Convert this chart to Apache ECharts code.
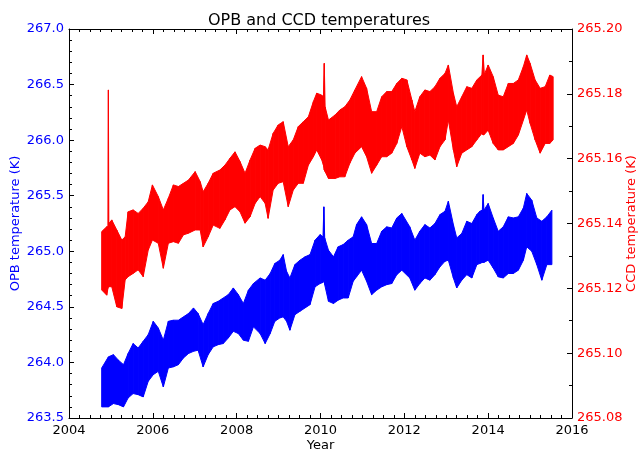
<!DOCTYPE html>
<html>
<head>
<meta charset="utf-8">
<title>OPB and CCD temperatures</title>
<script src="https://cdn.jsdelivr.net/npm/echarts@6/dist/echarts.min.js"></script>
<style>
  html, body { margin: 0; padding: 0; background: #fff; }
  #chart { width: 638px; height: 451px; }
</style>
</head>
<body>
<div id="chart"></div>
<script>
// OPB temperature (left axis): upper / lower edge of the noisy trace
var opbYears = [2004.78, 2004.94, 2005.06, 2005.18, 2005.30, 2005.41, 2005.53, 2005.65, 2005.77, 2005.89,
  2006.01, 2006.13, 2006.25, 2006.37, 2006.49, 2006.61, 2006.73, 2006.85, 2006.97, 2007.08,
  2007.20, 2007.32, 2007.44, 2007.56, 2007.68, 2007.80, 2007.92, 2008.04, 2008.16, 2008.28,
  2008.40, 2008.56, 2008.68, 2008.80, 2008.91, 2009.03, 2009.11, 2009.19, 2009.27, 2009.39,
  2009.51, 2009.63, 2009.75, 2009.87, 2009.99, 2010.06, 2010.08, 2010.10, 2010.19, 2010.31,
  2010.42, 2010.54, 2010.66, 2010.78, 2010.86, 2010.98, 2011.10, 2011.22, 2011.34, 2011.46,
  2011.58, 2011.70, 2011.82, 2011.94, 2012.13, 2012.25, 2012.37, 2012.49, 2012.61, 2012.73,
  2012.85, 2012.97, 2013.05, 2013.17, 2013.25, 2013.37, 2013.49, 2013.61, 2013.73, 2013.80,
  2013.86, 2013.88, 2013.90, 2014.00, 2014.12, 2014.24, 2014.36, 2014.48, 2014.60, 2014.72,
  2014.84, 2014.92, 2015.04, 2015.16, 2015.28, 2015.40, 2015.52];
var opbHi = [263.95, 264.05, 264.07, 264.02, 263.98, 264.08, 264.17, 264.13, 264.19, 264.25,
  264.37, 264.31, 264.20, 264.37, 264.38, 264.38, 264.41, 264.44, 264.49, 264.44,
  264.34, 264.44, 264.53, 264.55, 264.58, 264.61, 264.67, 264.61, 264.53, 264.65,
  264.71, 264.76, 264.74, 264.80, 264.89, 264.92, 264.97, 264.82, 264.76, 264.88,
  264.92, 264.95, 264.97, 265.10, 265.15, 265.13, 265.40, 265.12, 265.01, 264.95,
  265.04, 265.06, 265.10, 265.13, 265.24, 265.31, 265.24, 265.07, 265.07, 265.18,
  265.22, 265.21, 265.30, 265.34, 265.22, 265.10, 265.18, 265.24, 265.21, 265.25,
  265.33, 265.36, 265.45, 265.24, 265.12, 265.16, 265.27, 265.25, 265.33, 265.36,
  265.37, 265.51, 265.37, 265.43, 265.30, 265.18, 265.22, 265.31, 265.30, 265.31,
  265.39, 265.52, 265.46, 265.30, 265.27, 265.31, 265.37];
var opbLo = [263.60, 263.60, 263.63, 263.62, 263.60, 263.68, 263.72, 263.71, 263.69, 263.83,
  263.89, 263.92, 263.78, 263.95, 263.96, 263.98, 264.04, 264.08, 264.10, 264.11,
  263.96, 264.07, 264.14, 264.16, 264.17, 264.22, 264.28, 264.26, 264.20, 264.19,
  264.32, 264.26, 264.17, 264.26, 264.37, 264.40, 264.41, 264.37, 264.29, 264.43,
  264.46, 264.49, 264.52, 264.68, 264.71, 264.72, 264.75, 264.70, 264.55, 264.53,
  264.56, 264.58, 264.58, 264.73, 264.77, 264.83, 264.73, 264.61, 264.65, 264.68,
  264.70, 264.71, 264.79, 264.83, 264.76, 264.65, 264.71, 264.76, 264.74, 264.79,
  264.86, 264.91, 264.92, 264.76, 264.67, 264.74, 264.79, 264.76, 264.88, 264.89,
  264.90, 264.90, 264.90, 264.92, 264.85, 264.77, 264.76, 264.80, 264.80, 264.83,
  264.92, 265.04, 265.00, 264.88, 264.74, 264.88, 264.88];

// CCD temperature (right axis)
var ccdYears = [2004.78, 2004.90, 2004.93, 2004.94, 2004.95, 2005.02, 2005.14, 2005.26, 2005.34, 2005.41,
  2005.53, 2005.65, 2005.77, 2005.89, 2005.99, 2006.13, 2006.25, 2006.37, 2006.49, 2006.61,
  2006.73, 2006.85, 2007.01, 2007.13, 2007.20, 2007.32, 2007.44, 2007.60, 2007.72, 2007.84,
  2007.96, 2008.08, 2008.20, 2008.32, 2008.44, 2008.56, 2008.68, 2008.75, 2008.87, 2008.99,
  2009.11, 2009.23, 2009.35, 2009.47, 2009.59, 2009.71, 2009.83, 2009.91, 2010.03, 2010.07,
  2010.09, 2010.11, 2010.19, 2010.35, 2010.46, 2010.58, 2010.70, 2010.82, 2010.98, 2011.10,
  2011.22, 2011.34, 2011.46, 2011.58, 2011.70, 2011.82, 2011.94, 2012.06, 2012.18, 2012.25,
  2012.37, 2012.49, 2012.61, 2012.73, 2012.85, 2012.97, 2013.05, 2013.17, 2013.25, 2013.37,
  2013.49, 2013.61, 2013.73, 2013.85, 2013.88, 2013.91, 2014.00, 2014.12, 2014.24, 2014.36,
  2014.48, 2014.60, 2014.72, 2014.84, 2014.92, 2015.00, 2015.12, 2015.24, 2015.36, 2015.47,
  2015.55];
var ccdHi = [265.1375, 265.1390, 265.1390, 265.1812, 265.1400, 265.1411, 265.1380, 265.1349, 265.1359, 265.1436,
  265.1442, 265.1431, 265.1447, 265.1467, 265.1519, 265.1483, 265.1442, 265.1478, 265.1519, 265.1514,
  265.1524, 265.1534, 265.1560, 265.1529, 265.1498, 265.1524, 265.1555, 265.1565, 265.1580, 265.1601,
  265.1621, 265.1591, 265.1555, 265.1596, 265.1632, 265.1642, 265.1637, 265.1627, 265.1678, 265.1704,
  265.1714, 265.1637, 265.1658, 265.1699, 265.1714, 265.1729, 265.1776, 265.1802, 265.1796, 265.1790,
  265.1894, 265.1760, 265.1719, 265.1735, 265.1750, 265.1760, 265.1781, 265.1812, 265.1853, 265.1817,
  265.1745, 265.1745, 265.1791, 265.1807, 265.1807, 265.1832, 265.1848, 265.1843, 265.1781, 265.1745,
  265.1791, 265.1812, 265.1807, 265.1822, 265.1848, 265.1863, 265.1889, 265.1802, 265.1760, 265.1791,
  265.1822, 265.1817, 265.1843, 265.1858, 265.1920, 265.1860, 265.1889, 265.1853, 265.1796, 265.1791,
  265.1832, 265.1832, 265.1843, 265.1884, 265.1920, 265.1894, 265.1843, 265.1817, 265.1822, 265.1858,
  265.1853];
var ccdLo = [265.1195, 265.1179, 265.1200, 265.1210, 265.1205, 265.1205, 265.1143, 265.1138, 265.1226, 265.1236,
  265.1246, 265.1257, 265.1236, 265.1318, 265.1349, 265.1339, 265.1262, 265.1339, 265.1344, 265.1339,
  265.1365, 265.1370, 265.1380, 265.1380, 265.1328, 265.1359, 265.1395, 265.1385, 265.1411, 265.1442,
  265.1452, 265.1436, 265.1401, 265.1421, 265.1462, 265.1483, 265.1462, 265.1416, 265.1503, 265.1524,
  265.1529, 265.1452, 265.1503, 265.1524, 265.1524, 265.1580, 265.1606, 265.1627, 265.1596, 265.1580,
  265.1565, 265.1560, 265.1539, 265.1539, 265.1544, 265.1544, 265.1586, 265.1617, 265.1637, 265.1606,
  265.1555, 265.1580, 265.1606, 265.1606, 265.1617, 265.1647, 265.1699, 265.1637, 265.1596, 265.1570,
  265.1617, 265.1606, 265.1611, 265.1596, 265.1637, 265.1658, 265.1719, 265.1627, 265.1575, 265.1617,
  265.1627, 265.1637, 265.1658, 265.1678, 265.1673, 265.1675, 265.1688, 265.1647, 265.1627, 265.1627,
  265.1637, 265.1647, 265.1673, 265.1719, 265.1750, 265.1709, 265.1658, 265.1617, 265.1647, 265.1647,
  265.1658];

var yearTicks = [2004, 2016, 2];          // min, max, step
var opbTicks = [263.5, 267.0, 0.5];
var ccdTicks = [265.08, 265.20, 0.02];

var FONT = 'DejaVu Sans';

// fill the band between the upper and lower edge, one quad per sample step
function band(years, hi, lo, color) {
  return function (params, api) {
    var i = params.dataIndex;
    if (i >= years.length - 1) return { type: 'group', children: [] };
    var pts = [
      api.coord([years[i], hi[i]]),
      api.coord([years[i + 1], hi[i + 1]]),
      api.coord([years[i + 1], lo[i + 1]]),
      api.coord([years[i], lo[i]])
    ];
    return {
      type: 'polygon',
      shape: { points: pts },
      style: { fill: color, stroke: color, lineWidth: 1 }
    };
  };
}

function axisCommon(splits) {
  return {
    nameMoveOverlap: false,
    axisLine: { show: true, onZero: false, lineStyle: { color: '#000', width: 1 } },
    axisTick: { show: true, inside: true, length: 5, lineStyle: { color: '#000' } },
    minorTick: { show: true, splitNumber: splits, length: 3, lineStyle: { color: '#000' } },
    splitLine: { show: false }
  };
}

var chart = echarts.init(document.getElementById('chart'));

var option = {
  animation: false,
  backgroundColor: '#fff',
  title: {
    text: 'OPB and CCD temperatures',
    left: 'center',
    top: 8,
    textStyle: { fontFamily: FONT, fontSize: 16, fontWeight: 'normal', color: '#000' }
  },
  grid: { left: 69, right: 66, top: 29, bottom: 33, containLabel: false, outerBoundsMode: 'none' },
  xAxis: [
    Object.assign(axisCommon(8), {
      type: 'value', position: 'bottom',
      min: yearTicks[0], max: yearTicks[1], interval: yearTicks[2],
      name: 'Year', nameLocation: 'middle', nameGap: 21,
      nameTextStyle: { fontFamily: FONT, fontSize: 13, color: '#000' },
      axisLabel: { fontFamily: FONT, fontSize: 13, color: '#000', margin: 6,
        formatter: function (v) { return String(Math.round(v)); } }
    }),
    Object.assign(axisCommon(8), {
      type: 'value', position: 'top',
      min: yearTicks[0], max: yearTicks[1], interval: yearTicks[2],
      axisLabel: { show: false }
    })
  ],
  yAxis: [
    Object.assign(axisCommon(5), {
      type: 'value', position: 'left',
      min: opbTicks[0], max: opbTicks[1], interval: opbTicks[2],
      name: 'OPB temperature (K)', nameLocation: 'middle', nameGap: 47,
      nameTextStyle: { fontFamily: FONT, fontSize: 13, color: '#0000ff' },
      axisLabel: { fontFamily: FONT, fontSize: 13, color: '#0000ff', margin: 5,
        formatter: function (v) { return v.toFixed(1); } }
    }),
    Object.assign(axisCommon(2), {
      type: 'value', position: 'right',
      min: ccdTicks[0], max: ccdTicks[1], interval: ccdTicks[2],
      name: 'CCD temperature (K)', nameLocation: 'middle', nameGap: 53, nameRotate: 90,
      nameTextStyle: { fontFamily: FONT, fontSize: 13, color: '#ff0000' },
      axisLabel: { fontFamily: FONT, fontSize: 13, color: '#ff0000', margin: 5,
        formatter: function (v) { return v.toFixed(2); } }
    })
  ],
  series: [
    {
      name: 'CCD',
      type: 'custom',
      xAxisIndex: 0,
      yAxisIndex: 1,
      silent: true,
      renderItem: band(ccdYears, ccdHi, ccdLo, '#ff0000'),
      encode: { x: 0, y: [1, 2] },
      data: ccdYears.map(function (t, i) { return [t, ccdLo[i], ccdHi[i]]; })
    },
    {
      name: 'OPB',
      type: 'custom',
      xAxisIndex: 0,
      yAxisIndex: 0,
      silent: true,
      renderItem: band(opbYears, opbHi, opbLo, '#0000ff'),
      encode: { x: 0, y: [1, 2] },
      data: opbYears.map(function (t, i) { return [t, opbLo[i], opbHi[i]]; })
    }
  ]
};

chart.setOption(option, true);
</script>
</body>
</html>
